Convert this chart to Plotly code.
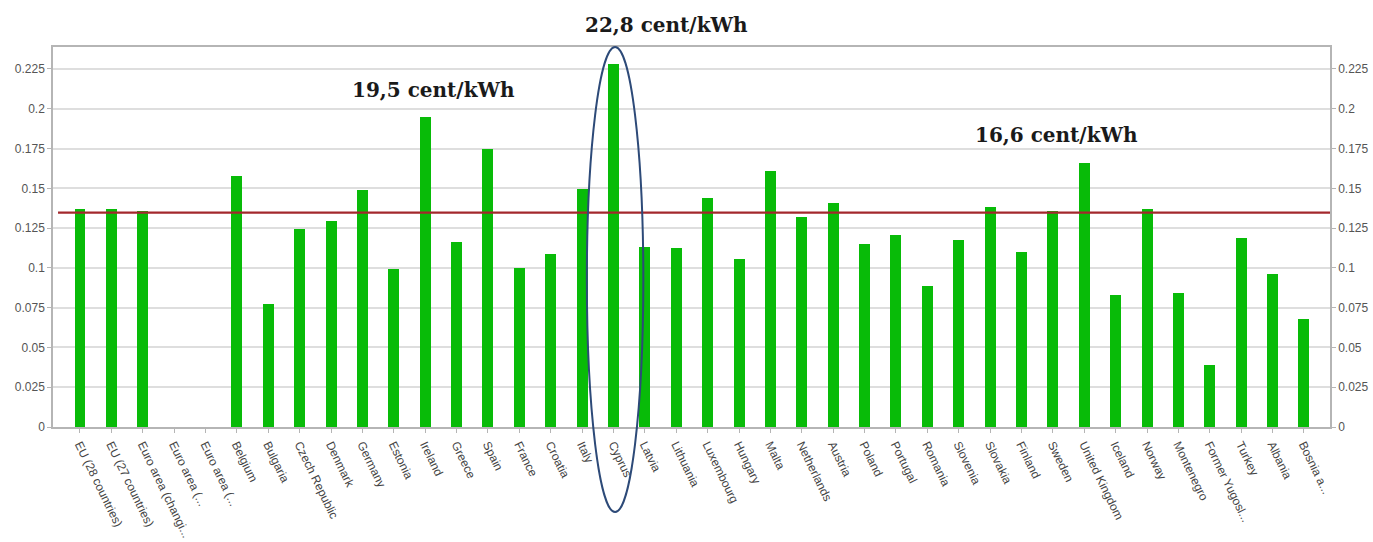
import plotly.graph_objects as go

# Electricity prices by country (EUR per kWh)
countries = [
    "EU (28 countries)", "EU (27 countries)", "Euro area (changi...", "Euro area (...",
    "Euro area (...", "Belgium", "Bulgaria", "Czech Republic", "Denmark", "Germany",
    "Estonia", "Ireland", "Greece", "Spain", "France", "Croatia", "Italy", "Cyprus",
    "Latvia", "Lithuania", "Luxembourg", "Hungary", "Malta", "Netherlands", "Austria",
    "Poland", "Portugal", "Romania", "Slovenia", "Slovakia", "Finland", "Sweden",
    "United Kingdom", "Iceland", "Norway", "Montenegro", "Former Yugosl...", "Turkey",
    "Albania", "Bosnia a...",
]
prices = [
    0.137, 0.137, 0.136, None, None, 0.158, 0.077, 0.1245, 0.1295, 0.149,
    0.099, 0.195, 0.1165, 0.175, 0.100, 0.1087, 0.1496, 0.228,
    0.1133, 0.1127, 0.1441, 0.1056, 0.161, 0.1318, 0.141,
    0.1152, 0.1207, 0.0886, 0.1173, 0.1383, 0.1098, 0.136,
    0.166, 0.0828, 0.1368, 0.084, 0.039, 0.1188,
    0.096, 0.068,
]
reference_price = 0.1347

y_ticks = [0, 0.025, 0.05, 0.075, 0.1, 0.125, 0.15, 0.175, 0.2, 0.225]
y_tick_text = ["0", "0.025", "0.05", "0.075", "0.1", "0.125", "0.15", "0.175", "0.2", "0.225"]

# Highlighted values with their callout text
callouts = [
    ("Cyprus", "22,8 cent/kWh", 18.7, 1.058),
    ("Ireland", "19,5 cent/kWh", 11.27, 0.887),
    ("United Kingdom", "16,6 cent/kWh", 31.1, 0.768),
]

idx = list(range(len(countries)))
x_range = [-0.86, 39.83]
y_range = [0, 0.2388]

fig = go.Figure()

fig.add_trace(go.Bar(
    x=idx, y=prices, width=0.35,
    marker=dict(color="#08bb08", line=dict(width=0)),
    showlegend=False, hoverinfo="x+y",
))

fig.add_trace(go.Scatter(
    x=[-0.7, x_range[1]], y=[reference_price, reference_price],
    mode="lines", line=dict(color="#a3282c", width=2.2),
    showlegend=False, hoverinfo="skip",
))

# invisible trace to activate the mirrored right-hand axis
fig.add_trace(go.Scatter(
    x=[idx[0]], y=[0], yaxis="y2", mode="markers",
    marker=dict(opacity=0), showlegend=False, hoverinfo="skip",
))

for name, text, xpos, ypos in callouts:
    fig.add_annotation(
        x=xpos, y=ypos, xref="x", yref="paper",
        text="<b>" + text + "</b>", showarrow=False,
        font=dict(family="DejaVu Serif", size=20, color="#1a1a1a"),
        xanchor="center", yanchor="middle",
    )

# ellipse drawn around the Cyprus column
cy = countries.index("Cyprus")
fig.add_shape(
    type="circle", xref="x", yref="paper",
    x0=cy - 0.85, x1=cy + 0.95, y0=-0.224, y1=1.0,
    line=dict(color="#2d4a78", width=2), fillcolor="rgba(0,0,0,0)",
    layer="above",
)

axis_font = dict(family="Liberation Sans", size=12, color="#555555")

fig.update_layout(
    width=1373, height=542,
    margin=dict(l=53, r=43, t=47, b=115, autoexpand=False),
    paper_bgcolor="white", plot_bgcolor="white",
    bargap=0,
    xaxis=dict(
        range=x_range, tickmode="array", tickvals=idx, ticktext=countries,
        tickangle=64, tickfont=dict(family="Liberation Sans", size=12, color="#444444"),
        showgrid=False, zeroline=False, automargin=False,
        showline=True, linecolor="#b5b5b5", linewidth=2, mirror=True,
        ticks="outside", ticklen=4, tickcolor="#b5b5b5",
    ),
    yaxis=dict(
        range=y_range, tickmode="array", tickvals=y_ticks, ticktext=y_tick_text,
        tickfont=axis_font, showgrid=True, gridcolor="#dedede", gridwidth=1.5,
        zeroline=False, showline=True, linecolor="#b5b5b5", linewidth=1.5,
        ticks="outside", ticklen=4, tickcolor="#b5b5b5", automargin=False,
    ),
    yaxis2=dict(
        range=y_range, overlaying="y", side="right",
        tickmode="array", tickvals=y_ticks, ticktext=y_tick_text,
        tickfont=axis_font, showgrid=False, zeroline=False,
        showline=True, linecolor="#b5b5b5", linewidth=1.5,
        ticks="outside", ticklen=4, tickcolor="#b5b5b5", automargin=False,
    ),
)

fig.write_html("out.html")
